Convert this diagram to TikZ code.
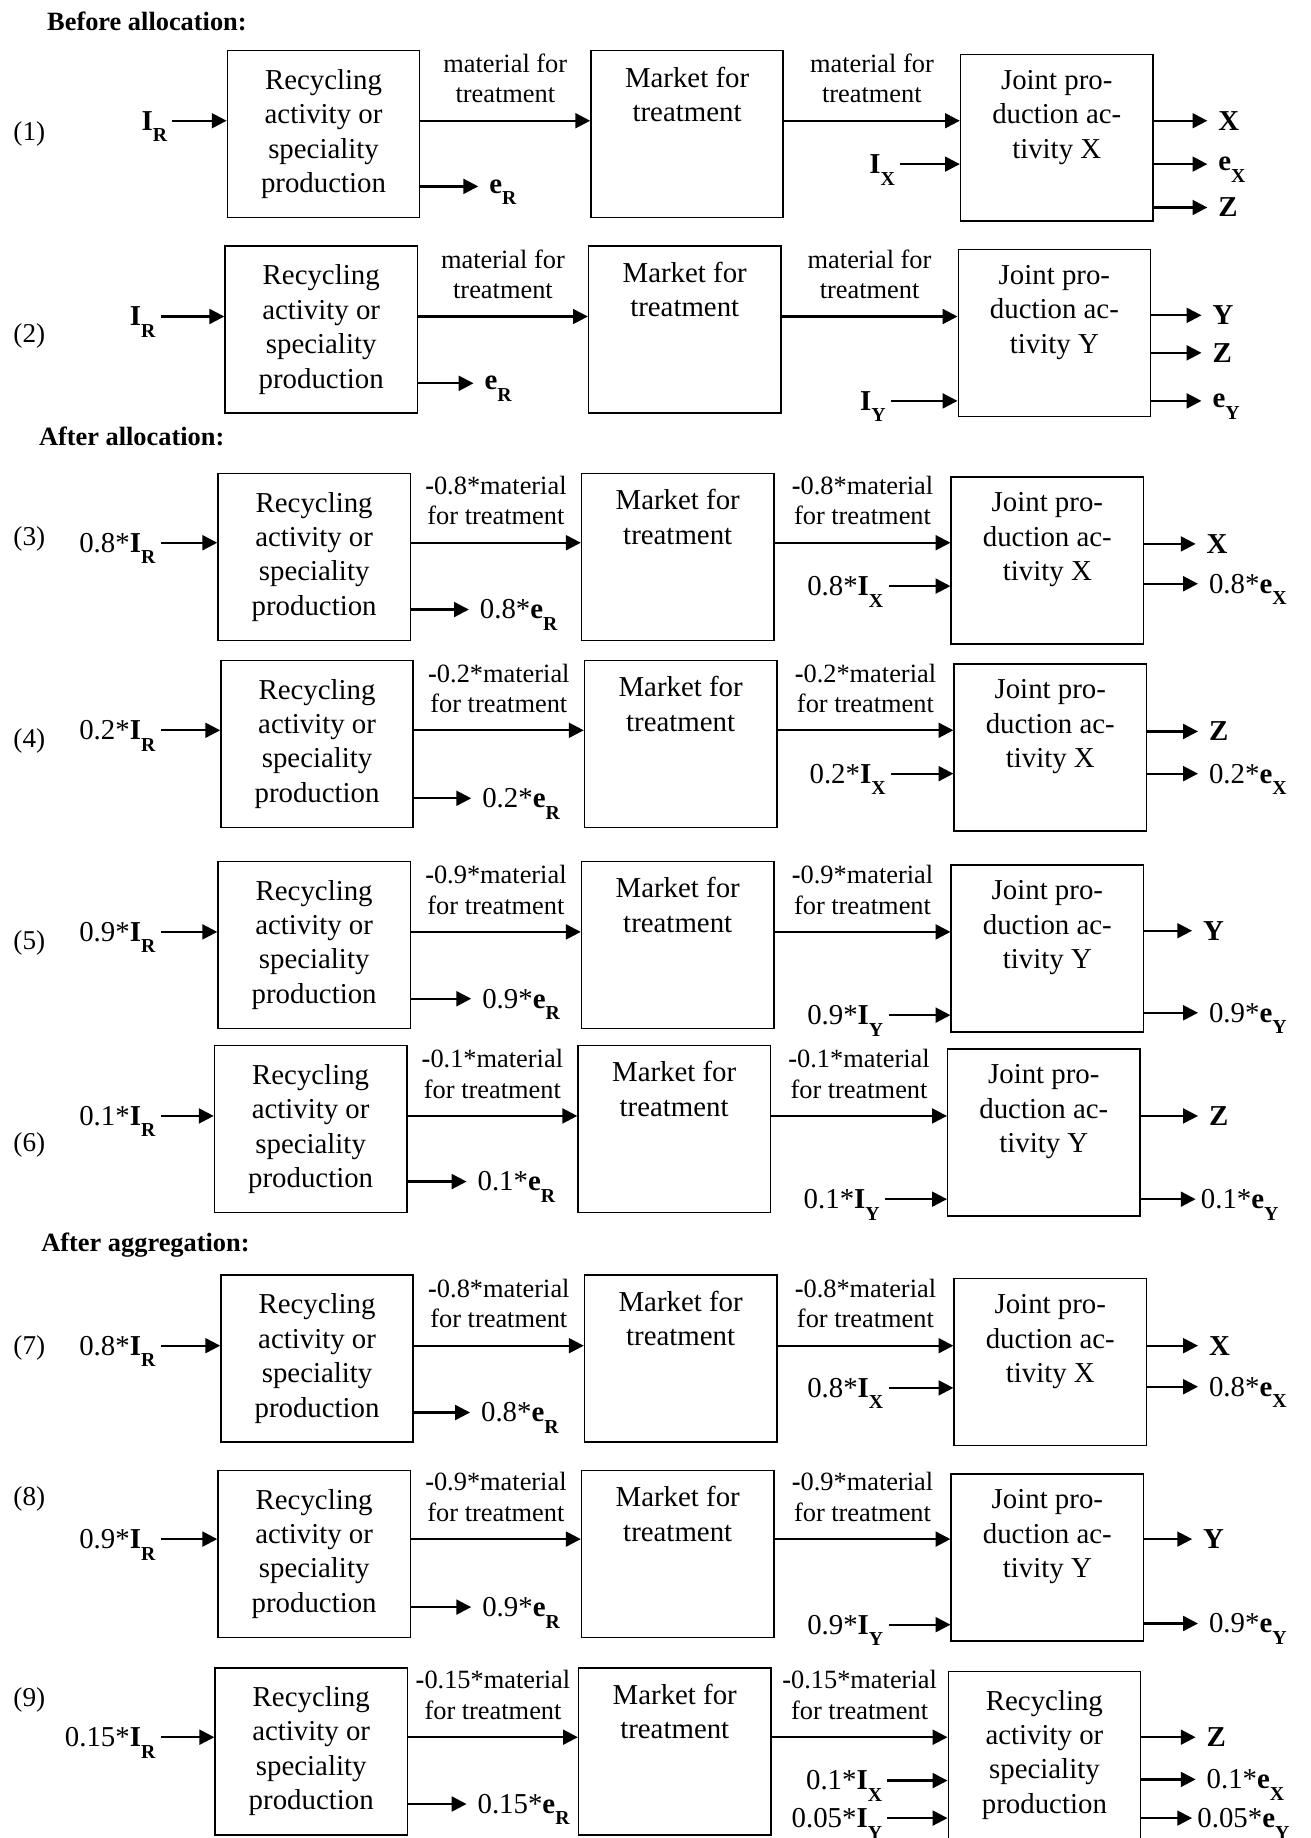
\documentclass[tikz,border=0pt]{standalone}
\usepackage{fontspec}
\setmainfont{Liberation Serif}
\usetikzlibrary{positioning,arrows.meta}
\newcommand{\ix}[2]{\textbf{#1}\raisebox{-7pt}[0pt][0pt]{\fontsize{12}{12}\selectfont\bfseries #2}}
\newcommand{\mf}[1]{\textbf{-}#1*material\\for treatment}
\tikzset{
  blk/.style={draw, line width=0.9pt, minimum width=4.1cm, minimum height=3.56cm, align=center, inner sep=0pt, font=\fontsize{17.5}{20.9}\selectfont},
  btx/.style={align=center, inner sep=0pt, font=\fontsize{17.5}{20.9}\selectfont},
  fl/.style={-{Triangle[length=9pt,width=9pt]}, line width=1.4pt},
  lb/.style={align=center, inner sep=2pt, font=\fontsize{16}{18.4}\selectfont},
  io/.style={inner sep=3pt, font=\fontsize{17.5}{20}\selectfont},
  ot/.style={io, anchor=west, inner xsep=6.5pt},
  num/.style={font=\fontsize{16.5}{20}\selectfont},
  hd/.style={anchor=west, inner sep=0pt, font=\fontsize{16}{20}\selectfont\bfseries},
}
\begin{document}
\begin{tikzpicture}[x=0.025cm, y=-0.025cm]
\useasboundingbox (0,0) rectangle (1118,1568);
\node[hd] (h1) at (40,18) {Before allocation:};
\node[hd] (h2) at (33,372) {After allocation:};
\node[hd] (h3) at (35,1062) {After aggregation:};
% (1)
\node[num] (n1) at (25,114) {(1)};
\node[blk] (ra1) at (276,114.5) {Recycling\\activity or\\speciality\\production};
\node[blk, right=3.62cm of ra1] (mk1) {};
\node[btx, below=3.5mm of mk1.north] (mk1t) {Market for\\treatment};
\node[blk, right=3.75cm of mk1, yshift=-0.75mm] (jc1) {};
\node[btx, below=3.5mm of jc1.north] (jc1t) {Joint pro-\\duction ac-\\tivity X};
\node[io, anchor=east] (ir1) at (147,103) {\ix{I}{R}};
\node[ot] (er1) at (408,159) {\ix{e}{R}};
\node[io, anchor=east] (ix1) at (768,140) {\ix{I}{X}};
\node[ot] (ox1) at (1030,103) {\textbf{X}};
\node[ot] (ex1) at (1030,140) {\ix{e}{X}};
\node[ot] (oz1) at (1030,177) {\textbf{Z}};
\draw[fl] (ir1) -- (ir1 -| ra1.west);
\draw[fl] (ir1 -| ra1.east) -- node[lb, above=8pt] {material for\\treatment} (ir1 -| mk1.west);
\draw[fl] (ir1 -| mk1.east) -- node[lb, above=8pt] {material for\\treatment} (ir1 -| jc1.west);
\draw[fl] (er1 -| ra1.east) -- (er1);
\draw[fl] (ix1) -- (ix1 -| jc1.west);
\draw[fl] (ox1 -| jc1.east) -- (ox1);
\draw[fl] (ex1 -| jc1.east) -- (ex1);
\draw[fl] (oz1 -| jc1.east) -- (oz1);
% (2)
\node[num] (n2) at (25,287) {(2)};
\node[blk] (ra2) at (274,281) {Recycling\\activity or\\speciality\\production};
\node[blk, right=3.62cm of ra2] (mk2) {};
\node[btx, below=3.5mm of mk2.north] (mk2t) {Market for\\treatment};
\node[blk, right=3.75cm of mk2, yshift=-0.75mm] (jc2) {};
\node[btx, below=3.5mm of jc2.north] (jc2t) {Joint pro-\\duction ac-\\tivity Y};
\node[io, anchor=east] (ir2) at (137,270) {\ix{I}{R}};
\node[ot] (er2) at (404,327) {\ix{e}{R}};
\node[io, anchor=east] (iy2) at (760,342) {\ix{I}{Y}};
\node[ot] (oy2) at (1025,269) {\textbf{Y}};
\node[ot] (oz2) at (1025,301) {\textbf{Z}};
\node[ot] (ey2) at (1025,342) {\ix{e}{Y}};
\draw[fl] (ir2) -- (ir2 -| ra2.west);
\draw[fl] (ir2 -| ra2.east) -- node[lb, above=8pt] {material for\\treatment} (ir2 -| mk2.west);
\draw[fl] (ir2 -| mk2.east) -- node[lb, above=8pt] {material for\\treatment} (ir2 -| jc2.west);
\draw[fl] (er2 -| ra2.east) -- (er2);
\draw[fl] (iy2) -- (iy2 -| jc2.west);
\draw[fl] (oy2 -| jc2.east) -- (oy2);
\draw[fl] (oz2 -| jc2.east) -- (oz2);
\draw[fl] (ey2 -| jc2.east) -- (ey2);
% (3)
\node[num] (n3) at (25,460) {(3)};
\node[blk] (ra3) at (268,475) {Recycling\\activity or\\speciality\\production};
\node[blk, right=3.62cm of ra3] (mk3) {};
\node[btx, below=3.5mm of mk3.north] (mk3t) {Market for\\treatment};
\node[blk, right=3.75cm of mk3, yshift=-0.75mm] (jc3) {};
\node[btx, below=3.5mm of jc3.north] (jc3t) {Joint pro-\\duction ac-\\tivity X};
\node[io, anchor=east] (ir3) at (137,463) {0.8*\ix{I}{R}};
\node[ot] (er3) at (400,520) {0.8*\ix{e}{R}};
\node[io, anchor=east] (ix3) at (758,500) {0.8*\ix{I}{X}};
\node[ot] (ox3) at (1020,464) {\textbf{X}};
\node[ot] (ex3) at (1022,498) {0.8*\ix{e}{X}};
\draw[fl] (ir3) -- (ir3 -| ra3.west);
\draw[fl] (ir3 -| ra3.east) -- node[lb, above=8pt] {\mf{0.8}} (ir3 -| mk3.west);
\draw[fl] (ir3 -| mk3.east) -- node[lb, above=8pt] {\mf{0.8}} (ir3 -| jc3.west);
\draw[fl] (er3 -| ra3.east) -- (er3);
\draw[fl] (ix3) -- (ix3 -| jc3.west);
\draw[fl] (ox3 -| jc3.east) -- (ox3);
\draw[fl] (ex3 -| jc3.east) -- (ex3);
% (4)
\node[num] (n4) at (25,632) {(4)};
\node[blk] (ra4) at (270.5,634.5) {Recycling\\activity or\\speciality\\production};
\node[blk, right=3.62cm of ra4] (mk4) {};
\node[btx, below=3.5mm of mk4.north] (mk4t) {Market for\\treatment};
\node[blk, right=3.75cm of mk4, yshift=-0.75mm] (jc4) {};
\node[btx, below=3.5mm of jc4.north] (jc4t) {Joint pro-\\duction ac-\\tivity X};
\node[io, anchor=east] (ir4) at (137,623) {0.2*\ix{I}{R}};
\node[ot] (er4) at (402,681) {0.2*\ix{e}{R}};
\node[io, anchor=east] (ix4) at (760,660) {0.2*\ix{I}{X}};
\node[ot] (oz4) at (1022,624) {\textbf{Z}};
\node[ot] (ex4) at (1022,660) {0.2*\ix{e}{X}};
\draw[fl] (ir4) -- (ir4 -| ra4.west);
\draw[fl] (ir4 -| ra4.east) -- node[lb, above=8pt] {\mf{0.2}} (ir4 -| mk4.west);
\draw[fl] (ir4 -| mk4.east) -- node[lb, above=8pt] {\mf{0.2}} (ir4 -| jc4.west);
\draw[fl] (er4 -| ra4.east) -- (er4);
\draw[fl] (ix4) -- (ix4 -| jc4.west);
\draw[fl] (oz4 -| jc4.east) -- (oz4);
\draw[fl] (ex4 -| jc4.east) -- (ex4);
% (5)
\node[num] (n5) at (25,804) {(5)};
\node[blk] (ra5) at (268,806) {Recycling\\activity or\\speciality\\production};
\node[blk, right=3.62cm of ra5] (mk5) {};
\node[btx, below=3.5mm of mk5.north] (mk5t) {Market for\\treatment};
\node[blk, right=3.75cm of mk5, yshift=-0.75mm] (jc5) {};
\node[btx, below=3.5mm of jc5.north] (jc5t) {Joint pro-\\duction ac-\\tivity Y};
\node[io, anchor=east] (ir5) at (137,795) {0.9*\ix{I}{R}};
\node[ot] (er5) at (402,852) {0.9*\ix{e}{R}};
\node[io, anchor=east] (iy5) at (758,866) {0.9*\ix{I}{Y}};
\node[ot] (oy5) at (1017,794) {\textbf{Y}};
\node[ot] (ey5) at (1022,864) {0.9*\ix{e}{Y}};
\draw[fl] (ir5) -- (ir5 -| ra5.west);
\draw[fl] (ir5 -| ra5.east) -- node[lb, above=8pt] {\mf{0.9}} (ir5 -| mk5.west);
\draw[fl] (ir5 -| mk5.east) -- node[lb, above=8pt] {\mf{0.9}} (ir5 -| jc5.west);
\draw[fl] (er5 -| ra5.east) -- (er5);
\draw[fl] (iy5) -- (iy5 -| jc5.west);
\draw[fl] (oy5 -| jc5.east) -- (oy5);
\draw[fl] (ey5 -| jc5.east) -- (ey5);
% (6)
\node[num] (n6) at (25,977) {(6)};
\node[blk] (ra6) at (265,963) {Recycling\\activity or\\speciality\\production};
\node[blk, right=3.62cm of ra6] (mk6) {};
\node[btx, below=3.5mm of mk6.north] (mk6t) {Market for\\treatment};
\node[blk, right=3.75cm of mk6, yshift=-0.75mm] (jc6) {};
\node[btx, below=3.5mm of jc6.north] (jc6t) {Joint pro-\\duction ac-\\tivity Y};
\node[io, anchor=east] (ir6) at (137,952) {0.1*\ix{I}{R}};
\node[ot] (er6) at (398,1008) {0.1*\ix{e}{R}};
\node[io, anchor=east] (iy6) at (755,1023) {0.1*\ix{I}{Y}};
\node[ot] (oz6) at (1022,952) {\textbf{Z}};
\node[io, anchor=west] (ey6) at (1020,1023) {0.1*\ix{e}{Y}};
\draw[fl] (ir6) -- (ir6 -| ra6.west);
\draw[fl] (ir6 -| ra6.east) -- node[lb, above=8pt] {\mf{0.1}} (ir6 -| mk6.west);
\draw[fl] (ir6 -| mk6.east) -- node[lb, above=8pt] {\mf{0.1}} (ir6 -| jc6.west);
\draw[fl] (er6 -| ra6.east) -- (er6);
\draw[fl] (iy6) -- (iy6 -| jc6.west);
\draw[fl] (oz6 -| jc6.east) -- (oz6);
\draw[fl] (ey6 -| jc6.east) -- (ey6);
% (7)
\node[num] (n7) at (25,1150) {(7)};
\node[blk] (ra7) at (270.5,1159) {Recycling\\activity or\\speciality\\production};
\node[blk, right=3.62cm of ra7] (mk7) {};
\node[btx, below=3.5mm of mk7.north] (mk7t) {Market for\\treatment};
\node[blk, right=3.75cm of mk7, yshift=-0.75mm] (jc7) {};
\node[btx, below=3.5mm of jc7.north] (jc7t) {Joint pro-\\duction ac-\\tivity X};
\node[io, anchor=east] (ir7) at (137,1148) {0.8*\ix{I}{R}};
\node[ot] (er7) at (401,1205) {0.8*\ix{e}{R}};
\node[io, anchor=east] (ix7) at (758,1184) {0.8*\ix{I}{X}};
\node[ot] (ox7) at (1022,1148) {\textbf{X}};
\node[ot] (ex7) at (1022,1183) {0.8*\ix{e}{X}};
\draw[fl] (ir7) -- (ir7 -| ra7.west);
\draw[fl] (ir7 -| ra7.east) -- node[lb, above=8pt] {\mf{0.8}} (ir7 -| mk7.west);
\draw[fl] (ir7 -| mk7.east) -- node[lb, above=8pt] {\mf{0.8}} (ir7 -| jc7.west);
\draw[fl] (er7 -| ra7.east) -- (er7);
\draw[fl] (ix7) -- (ix7 -| jc7.west);
\draw[fl] (ox7 -| jc7.east) -- (ox7);
\draw[fl] (ex7 -| jc7.east) -- (ex7);
% (8)
\node[num] (n8) at (25,1279) {(8)};
\node[blk] (ra8) at (268,1325.5) {Recycling\\activity or\\speciality\\production};
\node[blk, right=3.62cm of ra8] (mk8) {};
\node[btx, below=3.5mm of mk8.north] (mk8t) {Market for\\treatment};
\node[blk, right=3.75cm of mk8, yshift=-0.75mm] (jc8) {};
\node[btx, below=3.5mm of jc8.north] (jc8t) {Joint pro-\\duction ac-\\tivity Y};
\node[io, anchor=east] (ir8) at (137,1313) {0.9*\ix{I}{R}};
\node[ot] (er8) at (402,1371) {0.9*\ix{e}{R}};
\node[io, anchor=east] (iy8) at (758,1386) {0.9*\ix{I}{Y}};
\node[ot] (oy8) at (1017,1313) {\textbf{Y}};
\node[ot] (ey8) at (1022,1385) {0.9*\ix{e}{Y}};
\draw[fl] (ir8) -- (ir8 -| ra8.west);
\draw[fl] (ir8 -| ra8.east) -- node[lb, above=8pt] {\mf{0.9}} (ir8 -| mk8.west);
\draw[fl] (ir8 -| mk8.east) -- node[lb, above=8pt] {\mf{0.9}} (ir8 -| jc8.west);
\draw[fl] (er8 -| ra8.east) -- (er8);
\draw[fl] (iy8) -- (iy8 -| jc8.west);
\draw[fl] (oy8 -| jc8.east) -- (oy8);
\draw[fl] (ey8 -| jc8.east) -- (ey8);
% (9)
\node[num] (n9) at (25,1450) {(9)};
\node[blk] (ra9) at (265.5,1494) {Recycling\\activity or\\speciality\\production};
\node[blk, right=3.62cm of ra9] (mk9) {};
\node[btx, below=3.5mm of mk9.north] (mk9t) {Market for\\treatment};
\node[blk, right=3.75cm of mk9, yshift=-0.75mm] (jc9) {Recycling\\activity or\\speciality\\production};
\node[io, anchor=east] (ir9) at (137,1482) {0.15*\ix{I}{R}};
\node[ot] (er9) at (398,1539) {0.15*\ix{e}{R}};
\node[io, anchor=east] (ix9) at (757,1519) {0.1*\ix{I}{X}};
\node[io, anchor=east] (iy9) at (757,1551) {0.05*\ix{I}{Y}};
\node[ot] (oz9) at (1020,1482) {\textbf{Z}};
\node[ot] (ex9) at (1020,1518) {0.1*\ix{e}{X}};
\node[io, anchor=west] (ey9) at (1017,1551) {0.05*\ix{e}{Y}};
\draw[fl] (ir9) -- (ir9 -| ra9.west);
\draw[fl] (ir9 -| ra9.east) -- node[lb, above=8pt] {\mf{0.15}} (ir9 -| mk9.west);
\draw[fl] (ir9 -| mk9.east) -- node[lb, above=8pt] {\mf{0.15}} (ir9 -| jc9.west);
\draw[fl] (er9 -| ra9.east) -- (er9);
\draw[fl] (ix9) -- (ix9 -| jc9.west);
\draw[fl] (iy9) -- (iy9 -| jc9.west);
\draw[fl] (oz9 -| jc9.east) -- (oz9);
\draw[fl] (ex9 -| jc9.east) -- (ex9);
\draw[fl] (ey9 -| jc9.east) -- (ey9);
\end{tikzpicture}
\end{document}
